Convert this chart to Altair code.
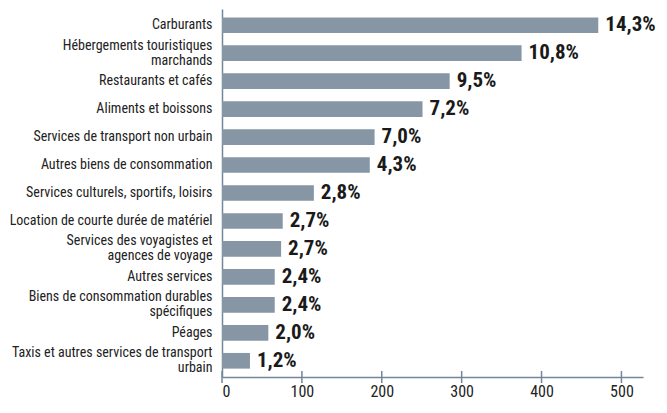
import altair as alt
import pandas as pd

categories = [
    "Carburants",
    "Hébergements touristiques|marchands",
    "Restaurants et cafés",
    "Aliments et boissons",
    "Services de transport non urbain",
    "Autres biens de consommation",
    "Services culturels, sportifs, loisirs",
    "Location de courte durée de matériel",
    "Services des voyagistes et|agences de voyage",
    "Autres services",
    "Biens de consommation durables|spécifiques",
    "Péages",
    "Taxis et autres services de transport|urbain",
]
values = [471, 375, 285, 251, 191, 185, 115, 76, 74, 66, 66, 58, 35]
shares = ["14,3%", "10,8%", "9,5%", "7,2%", "7,0%", "4,3%", "2,8%",
          "2,7%", "2,7%", "2,4%", "2,4%", "2,0%", "1,2%"]
tick_values = [0, 100, 200, 300, 400, 500]

df = pd.DataFrame({"cat": categories, "val": values, "share": shares})
ticks_df = pd.DataFrame({"t": tick_values})

W, H = 421, 368
FONT = "Roboto Condensed"
AXIS_COLOR = "#73879a"
BAR_COLOR = "#8796a5"

xscale = alt.Scale(domain=[0, 527], nice=False, zero=True)
yscale = alt.Scale(paddingInner=0.44, paddingOuter=0.3)

x_enc = alt.X("val:Q", scale=xscale,
              axis=alt.Axis(values=tick_values, ticks=False, grid=False,
                            domainColor=AXIS_COLOR, domainWidth=1.5,
                            labelFont=FONT, labelFontSize=16, labelColor="#222",
                            labelPadding=6, title=None))
y_enc = alt.Y("cat:N", sort=categories, scale=yscale,
              axis=alt.Axis(ticks=False, grid=False, domainColor=AXIS_COLOR,
                            domainWidth=1.5, labelFont=FONT, labelFontSize=14,
                            labelColor="#222", labelPadding=10, labelLimit=400,
                            labelLineHeight=15,
                            labelOffset={"condition": {"test": "indexof(datum.value, '|') >= 0", "value": -7.5}, "value": 0},
                            labelExpr="split(datum.label, '|')", title=None))

bars = alt.Chart(df).mark_bar(color=BAR_COLOR).encode(x=x_enc, y=y_enc)

labels = alt.Chart(df).mark_text(
    align="left", baseline="middle", dx=7, font=FONT, fontSize=21,
    fontWeight="bold", color="#1a1a1a"
).encode(x=alt.X("val:Q", scale=xscale), y=alt.Y("cat:N", sort=categories, scale=yscale),
         text="share:N")

tick_marks = alt.Chart(ticks_df).mark_rule(color=AXIS_COLOR, strokeWidth=1.5).encode(
    x=alt.X("t:Q", scale=xscale),
    y=alt.value(H - 6), y2=alt.value(H + 6))

chart = (bars + labels + tick_marks).properties(
    width=W, height=H,
    autosize=alt.AutoSizeParams(type="none"),
    padding={"left": 214, "top": 1, "right": 16, "bottom": 26},
).configure_view(strokeWidth=0)

chart.save("out.html", embed_options={"renderer": "svg", "actions": False})
